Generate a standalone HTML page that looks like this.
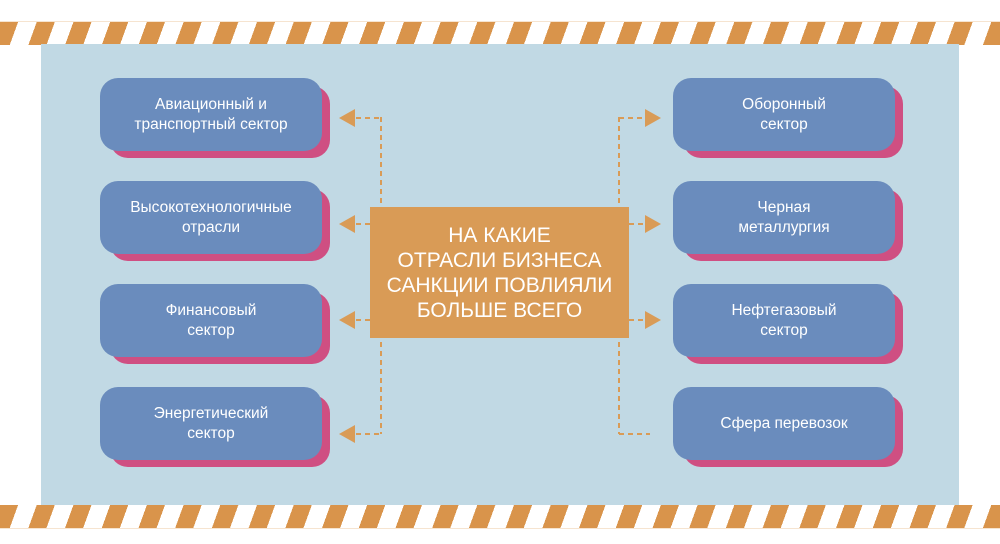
<!DOCTYPE html>
<html><head><meta charset="utf-8"><style>
body{margin:0;width:1000px;height:544px;background:#fff;position:relative;overflow:hidden;font-family:"Liberation Sans",sans-serif}
.stripe{position:absolute;left:0;width:1000px;height:23px;background:repeating-linear-gradient(110deg,#d9944b 0 17px,#fff 17px 34.5px)}
.panel{position:absolute;left:41px;top:44px;width:918px;height:461px;background:#c1d9e4}
.b{position:absolute;width:222px;height:74px}
.b .s{position:absolute;left:10px;top:8px;width:220px;height:72px;background:#cf4f82;border-radius:18px}
.b .f{position:absolute;left:0;top:0;width:222px;height:73px;background:#6a8cbd;border-radius:18px;color:#fff;font-size:15.5px;line-height:20px;display:flex;align-items:center;justify-content:center;text-align:center}
.c{position:absolute;left:370px;top:207px;width:259px;height:131px;background:#d99b56;color:#fff;font-size:21px;line-height:25px;display:flex;align-items:center;justify-content:center;text-align:center}
</style></head><body>
<div class="stripe" style="top:21px;border-top:1px solid #f6e4d0"></div>
<div class="stripe" style="top:505px;border-bottom:1px solid #f6e4d0"></div>
<div class="panel"></div>
<svg width="1000" height="544" style="position:absolute;left:0;top:0">
<g stroke="#d99b56" stroke-width="2" stroke-dasharray="5,4" fill="none">
<path d="M381 117V434M619 117V434"/>
<path d="M356 118H381M356 224H370M356 320H370M356 434H381"/>
<path d="M619 118H645M629 224H645M629 320H645M619 434H650"/>
</g>
<g fill="#d99b56">
<polygon points="339,118 355,109 355,127"/><polygon points="339,224 355,215 355,233"/><polygon points="339,320 355,311 355,329"/><polygon points="339,434 355,425 355,443"/>
<polygon points="661,118 645,109 645,127"/><polygon points="661,224 645,215 645,233"/><polygon points="661,320 645,311 645,329"/>
</g>
</svg>
<div class="b" style="left:100px;top:78px"><div class="s"></div><div class="f">Авиационный и<br>транспортный сектор</div></div>
<div class="b" style="left:100px;top:181px"><div class="s"></div><div class="f">Высокотехнологичные<br>отрасли</div></div>
<div class="b" style="left:100px;top:284px"><div class="s"></div><div class="f">Финансовый<br>сектор</div></div>
<div class="b" style="left:100px;top:387px"><div class="s"></div><div class="f">Энергетический<br>сектор</div></div>
<div class="b" style="left:673px;top:78px"><div class="s"></div><div class="f">Оборонный<br>сектор</div></div>
<div class="b" style="left:673px;top:181px"><div class="s"></div><div class="f">Черная<br>металлургия</div></div>
<div class="b" style="left:673px;top:284px"><div class="s"></div><div class="f">Нефтегазовый<br>сектор</div></div>
<div class="b" style="left:673px;top:387px"><div class="s"></div><div class="f">Сфера перевозок</div></div>
<div class="c">НА КАКИЕ<br>ОТРАСЛИ БИЗНЕСА<br>САНКЦИИ ПОВЛИЯЛИ<br>БОЛЬШЕ ВСЕГО</div>
</body></html>
